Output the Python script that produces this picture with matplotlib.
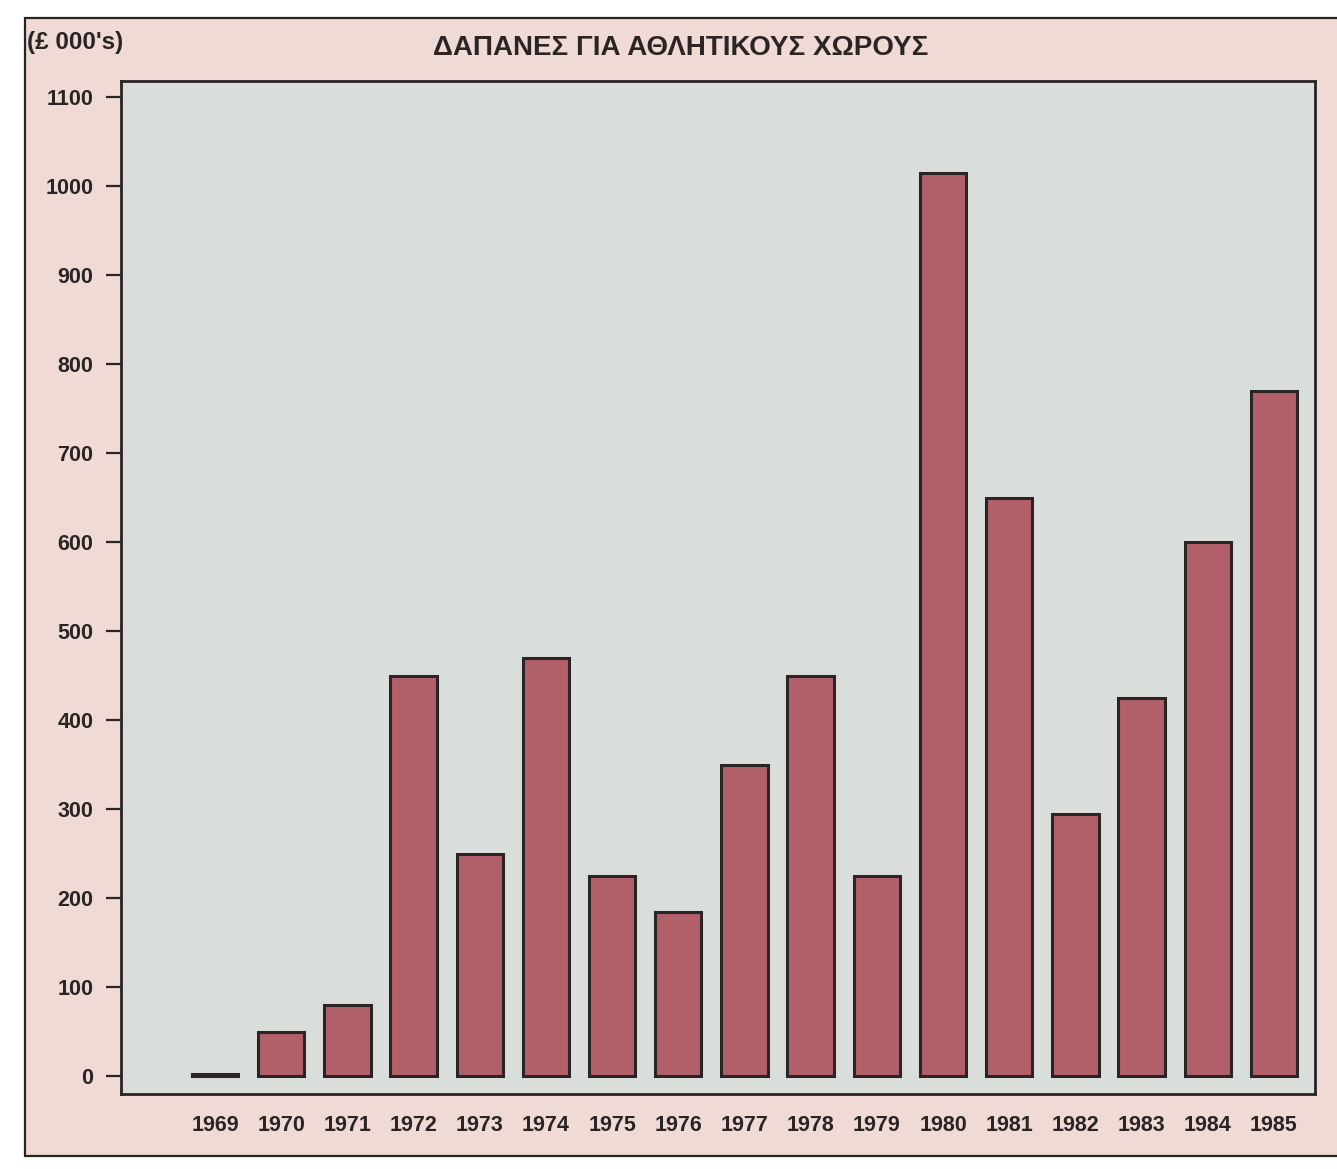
import matplotlib.pyplot as plt
from matplotlib.patches import Rectangle

plt.rcParams['font.family'] = ['Liberation Sans', 'DejaVu Sans']

years = [str(y) for y in range(1969, 1986)]
spend = [2, 50, 80, 450, 250, 470, 225, 185, 350, 450, 225, 1015, 650, 295, 425, 600, 770]
y_ticks = list(range(0, 1101, 100))

W, H = 1337, 1169
fig = plt.figure(figsize=(W / 100, H / 100), dpi=100)
fig.patch.set_facecolor('white')

# pink card behind the chart
frame = Rectangle((25 / W, 13 / H), 1.2, 1 - 18 / H - 13 / H, transform=fig.transFigure,
                  facecolor='#efdad6', edgecolor='#2a2424', linewidth=1.6, zorder=-5)
fig.patches.append(frame)

left, right, top, bottom = 121, 1315, 81, 1094
ax = fig.add_axes([left / W, 1 - bottom / H, (right - left) / W, (bottom - top) / H])
ax.set_zorder(2)
ax.set_facecolor('#dadedb')

x = list(range(len(years)))
ax.bar(x, spend, width=0.7, color='#b1606a', edgecolor='#2a2424', linewidth=2.2)

ax.set_xlim(-1.42, 16.62)
ax.set_ylim(-20, 1118)
ax.set_yticks(y_ticks)
ax.set_yticklabels([str(v) for v in y_ticks])
ax.set_xticks(x)
ax.set_xticklabels(years)

ax.tick_params(axis='y', length=11, width=1.6, pad=9, labelsize=15.5, colors='#2a2424')
ax.tick_params(axis='x', length=0, pad=15, labelsize=15.5, colors='#2a2424')
for lab in ax.get_xticklabels() + ax.get_yticklabels():
    lab.set_fontweight('bold')
for sp in ax.spines.values():
    sp.set_linewidth(2.0)
    sp.set_color('#2a2424')

fig.text(27 / W, 1 - 43 / H, "(£ 000's)", fontsize=17.5, fontweight='bold',
         color='#2a2424', va='center', ha='left')
fig.text(681 / W, 1 - 48 / H, 'ΔΑΠΑΝΕΣ ΓΙΑ ΑΘΛΗΤΙΚΟΥΣ ΧΩΡΟΥΣ', fontsize=20,
         fontweight='bold', color='#2a2424', va='center', ha='center')

fig.savefig('out.png', dpi=100)
